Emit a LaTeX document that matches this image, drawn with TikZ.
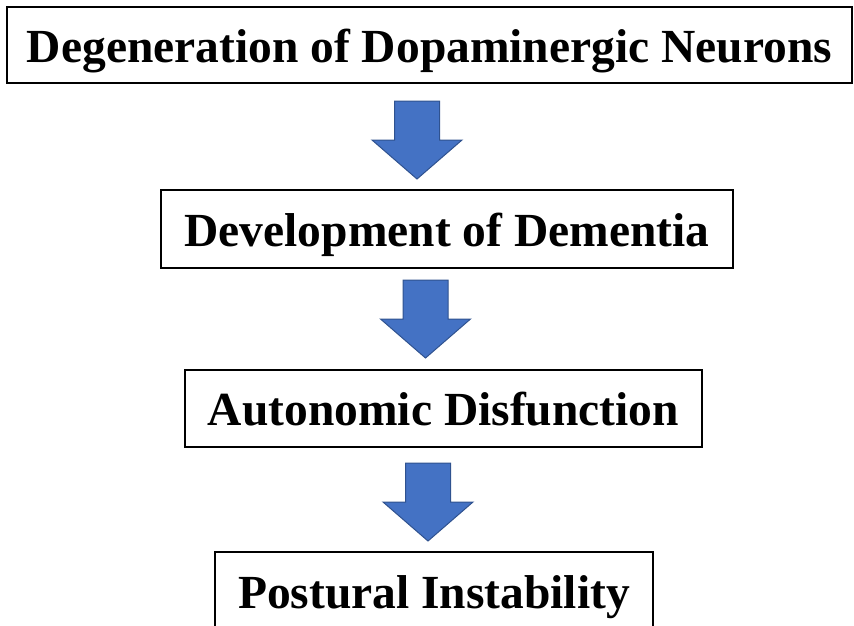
\documentclass[tikz,border=0pt]{standalone}
\usepackage{fontspec}
\setmainfont{Liberation Serif}
\usetikzlibrary{calc}

\definecolor{arrowfill}{HTML}{4472C4}
\definecolor{arrowedge}{HTML}{2F528F}

\tikzset{
  stagebox/.style={draw=black, line width=2pt, fill=white, inner sep=0pt,
    text height=40pt, text depth=6pt,
    font=\fontsize{47.5}{50}\selectfont\bfseries, text=black},
  blockarrow/.style={fill=arrowfill, draw=arrowedge, line width=1pt, line join=miter},
}

% Block arrow from box #1 down to box #2, centred at x=#3,
% leaving gap #4 below #1 and gap #5 above #2.
\newcommand\stagearrow[5]{%
  \path[blockarrow] let \p1=(#1.south), \p2=(#2.north),
      \n1={\y1-#4}, \n2={\y2+#5}, \n3={(\n1+\n2)/2} in
    (#3-22.5,\n1) -- (#3+22.5,\n1) -- (#3+22.5,\n3) -- (#3+45,\n3)
    -- (#3,\n2) -- (#3-45,\n3) -- (#3-22.5,\n3) -- cycle;}

\begin{document}
\begin{tikzpicture}[x=1pt, y=1pt]
  \useasboundingbox (0,0) rectangle (854,-625);

  \node[stagebox, minimum width=845, minimum height=76] (degen) at (429.5,-45)
    {Degeneration of Dopaminergic Neurons};
  \node[stagebox, minimum width=572, minimum height=78] (dementia) at (447,-229)
    {Development of Dementia};
  \node[stagebox, minimum width=517, minimum height=77] (autonomic) at (443.5,-408.5)
    {Autonomic Disfunction};
  \node[stagebox, minimum width=438, minimum height=78] (postural) at (434,-591)
    {Postural Instability};

  \stagearrow{degen}{dementia}{417}{17}{10}
  \stagearrow{dementia}{autonomic}{425.5}{11}{11}
  \stagearrow{autonomic}{postural}{428}{15}{10}
\end{tikzpicture}
\end{document}
